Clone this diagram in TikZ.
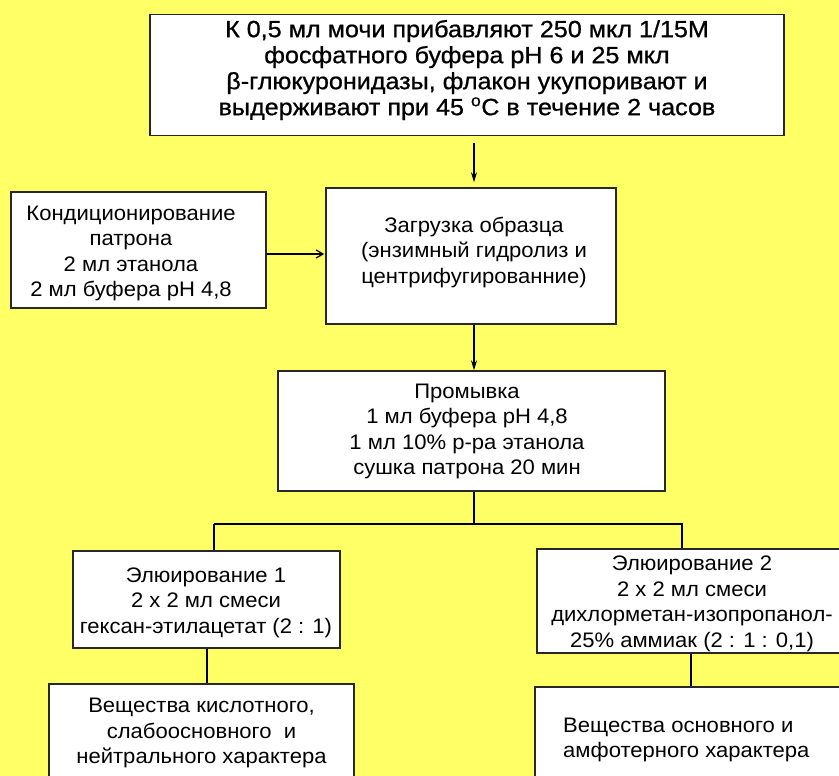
\documentclass[tikz,border=0pt]{standalone}
\usepackage{fontspec}
\setmainfont{Liberation Sans}
\newfontfamily\topfont[FakeStretch=1.07,FakeBold=0.8]{Liberation Sans}
\newfontfamily\bodyfont[FakeStretch=1.05]{Liberation Sans}
\usetikzlibrary{arrows.meta,calc}
\definecolor{bg}{RGB}{255,255,102}
\definecolor{edge}{RGB}{40,40,40}
\begin{document}
\begin{tikzpicture}[x=1pt,y=-1pt,
  box/.style={draw=edge,line width=1.5pt,fill=white,inner sep=0pt},
  txt/.style={inner sep=0pt,align=center,font=\bodyfont\fontsize{21}{25.5}\selectfont},
  toptxt/.style={inner sep=0pt,align=center,font=\topfont\fontsize{23.5}{26}\selectfont},
  conn/.style={draw=black,line width=1.2pt},
  arr/.style={conn,-{Stealth[length=10pt,width=6pt]}},
  barb/.style={conn,-{Straight Barb[length=7pt,width=8pt]}},
]
\useasboundingbox (0,0) rectangle (839,776);
\fill[bg] (0,0) rectangle (839,776);
\begin{scope}
\clip (0,0) rectangle (839,776);
% boxes
\node[box,minimum width=634pt,minimum height=121pt] (top) at (467,75) {};
\node[box,minimum width=255pt,minimum height=116pt] (cond) at (138.5,250) {};
\node[box,minimum width=290pt,minimum height=136pt] (load) at (471,256) {};
\node[box,minimum width=387pt,minimum height=120pt] (wash) at (471.5,431) {};
\node[box,minimum width=267pt,minimum height=97pt] (el1) at (206.5,599.5) {};
\node[box,minimum width=313pt,minimum height=104pt] (el2) at (693.5,601) {};
\node[box,minimum width=305pt,minimum height=120pt] (res1) at (201.5,744) {};
\node[box,minimum width=315pt,minimum height=120pt] (res2) at (692.5,747) {};
% texts
\node[toptxt] (toptext) at (467,70) {К 0,5 мл мочи прибавляют 250 мкл 1/15М\\фосфатного буфера рН 6 и 25 мкл\\β-глюкуронидазы, флакон укупоривают и\\выдерживают при 45 \textsuperscript{o}С в течение 2 часов};
\node[txt] (condtext) at (131,253.5) {Кондиционирование\\патрона\\2 мл этанола\\2 мл буфера рН 4,8};
\node[txt] (loadtext) at (474,252) {Загрузка образца\\(энзимный гидролиз и\\центрифугированние)};
\node[txt] (washtext) at (467,431.5) {Промывка\\1 мл буфера рН 4,8\\1 мл 10\% р-ра этанола\\сушка патрона 20 мин};
\node[txt] (el1text) at (206,602.5) {Элюирование 1\\2 х 2 мл смеси\\гексан-этилацетат (2 : 1)};
\node[txt] (el2text) at (692,604) {Элюирование 2\\2 х 2 мл смеси\\дихлорметан-изопропанол-\\25\% аммиак (2 : 1 : 0,1)};
\node[txt] (res1text) at (201.5,733) {Вещества кислотного,\\слабоосновного \ и\\нейтрального характера};
\node[txt,align=left,anchor=west] (res2text) at (563,740) {Вещества основного и\\амфотерного характера};
% connectors
\coordinate (ax) at (474,0);
\coordinate (split) at (474,524);
\coordinate (condout) at ($(cond.east)+(0,4)$);
\draw[arr] ($(top.south -| ax)+(0,7)$) -- ($(load.north -| ax)+(0,-5)$);
\draw[barb] (condout) -- ($(condout -| load.west)+(-1,0)$);
\draw[arr] (load.south -| ax) -- (wash.north -| ax);
\draw[conn] (wash.south -| ax) -- (split);
\draw[conn] (214,524) -- (683,524);
\draw[conn] (214,524) -- (el1.north -| 214,0);
\draw[conn] (682,524) -- (el2.north -| 682,0);
\draw[conn] (el1.south -| 207,0) -- (res1.north -| 207,0);
\draw[conn] (el2.south -| 691,0) -- (res2.north -| 691,0);
\end{scope}
\end{tikzpicture}
\end{document}
